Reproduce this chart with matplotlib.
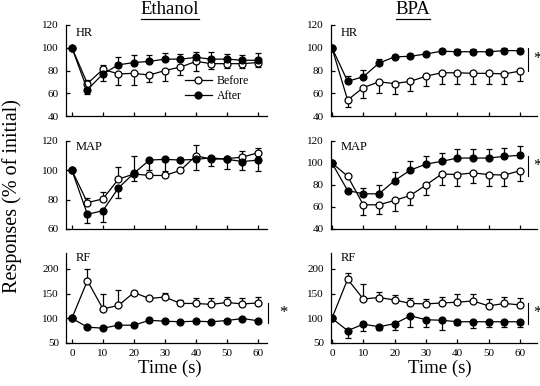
import matplotlib
matplotlib.use("Agg")
import matplotlib.pyplot as plt
import numpy as np
from matplotlib.lines import Line2D

plt.rcParams['font.family'] = ['Liberation Serif', 'DejaVu Serif']
plt.rcParams['mathtext.fontset'] = 'stix'

time_s = [0, 5, 10, 15, 20, 25, 30, 35, 40, 45, 50, 55, 60]
x_ticks = [0, 10, 20, 30, 40, 50, 60]

# signed error: positive = bar drawn upward, negative = downward
hr_eth_before = [100, 68.5, 81, 77, 77.5, 76, 80, 83, 88, 86, 86, 86, 87]
hr_eth_before_err = [0, 3, 4, -10, -10, -6, -9, -7, -8, -5, -4, -4, -4]
hr_eth_after = [100, 63, 77, 85, 87, 88, 90, 90, 91.5, 90, 90, 89, 89]
hr_eth_after_err = [0, -4, -6, 7, 7, 6, 5.5, 4.5, 4.5, 6, 4.5, 4.5, 6]

hr_bpa_before = [100, 54, 65, 70, 68.5, 70.5, 75, 78, 78, 77.5, 77.5, 77, 79.5]
hr_bpa_before_err = [0, -6.5, -9, -9.5, -9, -8.5, -9, -9.5, -9.5, -9, -9, -9, -8.5]
hr_bpa_after = [100, 70.5, 74.5, 86.5, 92, 92.5, 94.5, 97, 96.5, 96.5, 96.5, 97.5, 97.5]
hr_bpa_after_err = [0, 4.5, 6, 3.5, 2, 2, 2, 2, 2, 2, 2, 2, 2]

map_eth_before = [100, 78, 80.5, 94, 97.5, 96.5, 96.5, 100, 110, 107.5, 108, 109, 112]
map_eth_before_err = [0, 3, 4.5, 8.5, 12, 0, 0, 0, 7, -4.5, 0, 4, 3]
map_eth_after = [100, 70, 72.5, 88, 98, 107, 107.5, 107, 107.5, 108.5, 107.5, 106, 107]
map_eth_after_err = [0, -6, -7.5, -7, -5, -7, -8, 0, -7, 0, -6.5, -6, -7.5]

map_bpa_before = [100, 88, 62, 62, 66, 70.5, 80, 90, 89.5, 91, 89.5, 89, 93]
map_bpa_before_err = [0, 0, -9, -8.5, -10, -8.5, -9.5, -10, -10, -9.5, -10, -10, -9.5]
map_bpa_after = [100, 75, 72, 72, 84, 93.5, 99, 101.5, 104.5, 104.5, 104.5, 106, 107]
map_bpa_after_err = [0, 0, 5, 8, 7.5, 8, 7, 8, 8, 8, 8, 8, 8.5]

rf_eth_before = [100, 176, 119, 126, 152, 140, 143, 130, 130, 128, 132, 129, 131]
rf_eth_before_err = [0, 24, 31, 31, 3, 2, 8, 6, 10, 13, 11, 13, 13]
rf_eth_after = [100, 82, 80, 86, 86, 96, 94, 93, 94, 93, 95.5, 99.5, 95]
rf_eth_after_err = [0, -2, -2, -2, -2, -2, -2, -2, -2, -2, -2, -2, -2]

rf_bpa_before = [100, 179, 139, 142, 137, 130, 129, 131, 132.5, 135, 125, 130, 127]
rf_bpa_before_err = [0, 13, 30, 12, 11, 10, 9.5, 12, 16, 15, 13, 14, 13]
rf_bpa_after = [100, 75, 88, 83, 89, 105, 97, 96, 93, 93, 93, 93, 93]
rf_bpa_after_err = [0, -14, -13, -7, -13, -22, -15, -20, -6, -13, -10, -10, -10]

col_titles = ["Ethanol", "BPA"]
row_labels = ["HR", "MAP", "RF"]
ylims = [[(40, 120), (40, 120)], [(60, 120), (40, 120)], [(50, 232), (50, 232)]]
yticks = [[[40, 60, 80, 100, 120], [40, 60, 80, 100, 120]],
          [[60, 80, 100, 120], [40, 60, 80, 100, 120]],
          [[50, 100, 150, 200], [50, 100, 150, 200]]]
# significance brackets: (x, y_low, y_high) or None
sig = [[None, (62.6, 80, 100)],
       [None, (62.6, 88, 106)],
       [(63.2, 90, 131), (62.6, 89, 131)]]

data = [[(hr_eth_before, hr_eth_before_err, hr_eth_after, hr_eth_after_err),
         (hr_bpa_before, hr_bpa_before_err, hr_bpa_after, hr_bpa_after_err)],
        [(map_eth_before, map_eth_before_err, map_eth_after, map_eth_after_err),
         (map_bpa_before, map_bpa_before_err, map_bpa_after, map_bpa_after_err)],
        [(rf_eth_before, rf_eth_before_err, rf_eth_after, rf_eth_after_err),
         (rf_bpa_before, rf_bpa_before_err, rf_bpa_after, rf_bpa_after_err)]]

fig = plt.figure(figsize=(5.4, 3.86), dpi=100)
W, H = 540, 386
col_px = [(66, 267), (331, 537)]
row_px = [(25, 116), (141, 229), (253, 343)]
xlims = [(-1.9, 62.9), (-0.3, 65.4)]


def err_split(e):
    e = np.asarray(e, float)
    return np.vstack([np.clip(-e, 0, None), np.clip(e, 0, None)])


for r in range(3):
    for c in range(2):
        x0, x1 = col_px[c]
        y0, y1 = row_px[r]
        ax = fig.add_axes([x0 / W, 1 - y1 / H, (x1 - x0) / W, (y1 - y0) / H])
        before, be, after, ae = data[r][c]
        ax.errorbar(time_s, before, yerr=err_split(be), fmt='none', ecolor='black',
                    elinewidth=0.9, capsize=2.5, capthick=0.9, zorder=1)
        ax.errorbar(time_s, after, yerr=err_split(ae), fmt='none', ecolor='black',
                    elinewidth=0.9, capsize=2.5, capthick=0.9, zorder=1)
        ax.plot(time_s, before, '-o', color='black', lw=0.9, ms=5,
                mfc='white', mec='black', mew=0.9, zorder=3, label='Before')
        ax.plot(time_s, after, '-o', color='black', lw=0.9, ms=5,
                mfc='black', mec='black', mew=0.9, zorder=4, label='After')
        ax.set_xlim(*xlims[c])
        ax.set_ylim(*ylims[r][c])
        ax.set_yticks(yticks[r][c])
        ax.set_xticks(x_ticks)
        for s in ['top', 'right']:
            ax.spines[s].set_visible(False)
        for s in ['left', 'bottom']:
            ax.spines[s].set_linewidth(0.9)
        ax.tick_params(direction='in', length=3, width=0.9, labelsize=8, pad=4)
        ax.tick_params(axis='y', pad=5)
        if r < 2:
            ax.set_xticklabels([])
        ax.text(0.05 if c == 0 else 0.045, [0.91, 0.93, 0.945][r], row_labels[r],
                transform=ax.transAxes, fontsize=9, va='center', ha='left')
        if sig[r][c] is not None:
            sx, sy0, sy1 = sig[r][c]
            ax.plot([sx, sx], [sy0, sy1], color='black', lw=0.8, clip_on=False)
            if c == 0:
                tx = (283 - 72) / 3.1
            else:
                tx = (537 - 332) / 3.133
            ax.text(tx, (sy0 + sy1) / 2, '*', fontsize=12, ha='center', va='center',
                    clip_on=False)
        if r == 0 and c == 0:
            ax.legend(loc='center left', bbox_to_anchor=(0.59, 0.30), frameon=False,
                      fontsize=8.5, handlelength=2.3, handletextpad=0.4,
                      labelspacing=0.3, borderpad=0, borderaxespad=0)

fig.text(12 / W, 1 - 196 / H, 'Responses (% of initial)', rotation=90,
         fontsize=14.5, ha='center', va='center')
titles = []
for cx, t in zip([170, 413], col_titles):
    titles.append(fig.text(cx / W, 1 - 9 / H, t, fontsize=13.5, ha='center', va='center'))
for cx in [170, 440]:
    fig.text(cx / W, 1 - 368 / H, 'Time (s)', fontsize=13.5, ha='center', va='center')

fig.canvas.draw()
rend = fig.canvas.get_renderer()
for t in titles:
    bb = t.get_window_extent(rend)
    yy = bb.y0 - 1
    fig.add_artist(Line2D([bb.x0 / W, bb.x1 / W], [yy / H, yy / H],
                          color='black', lw=0.9, transform=fig.transFigure))

fig.savefig('out.png', dpi=100)
